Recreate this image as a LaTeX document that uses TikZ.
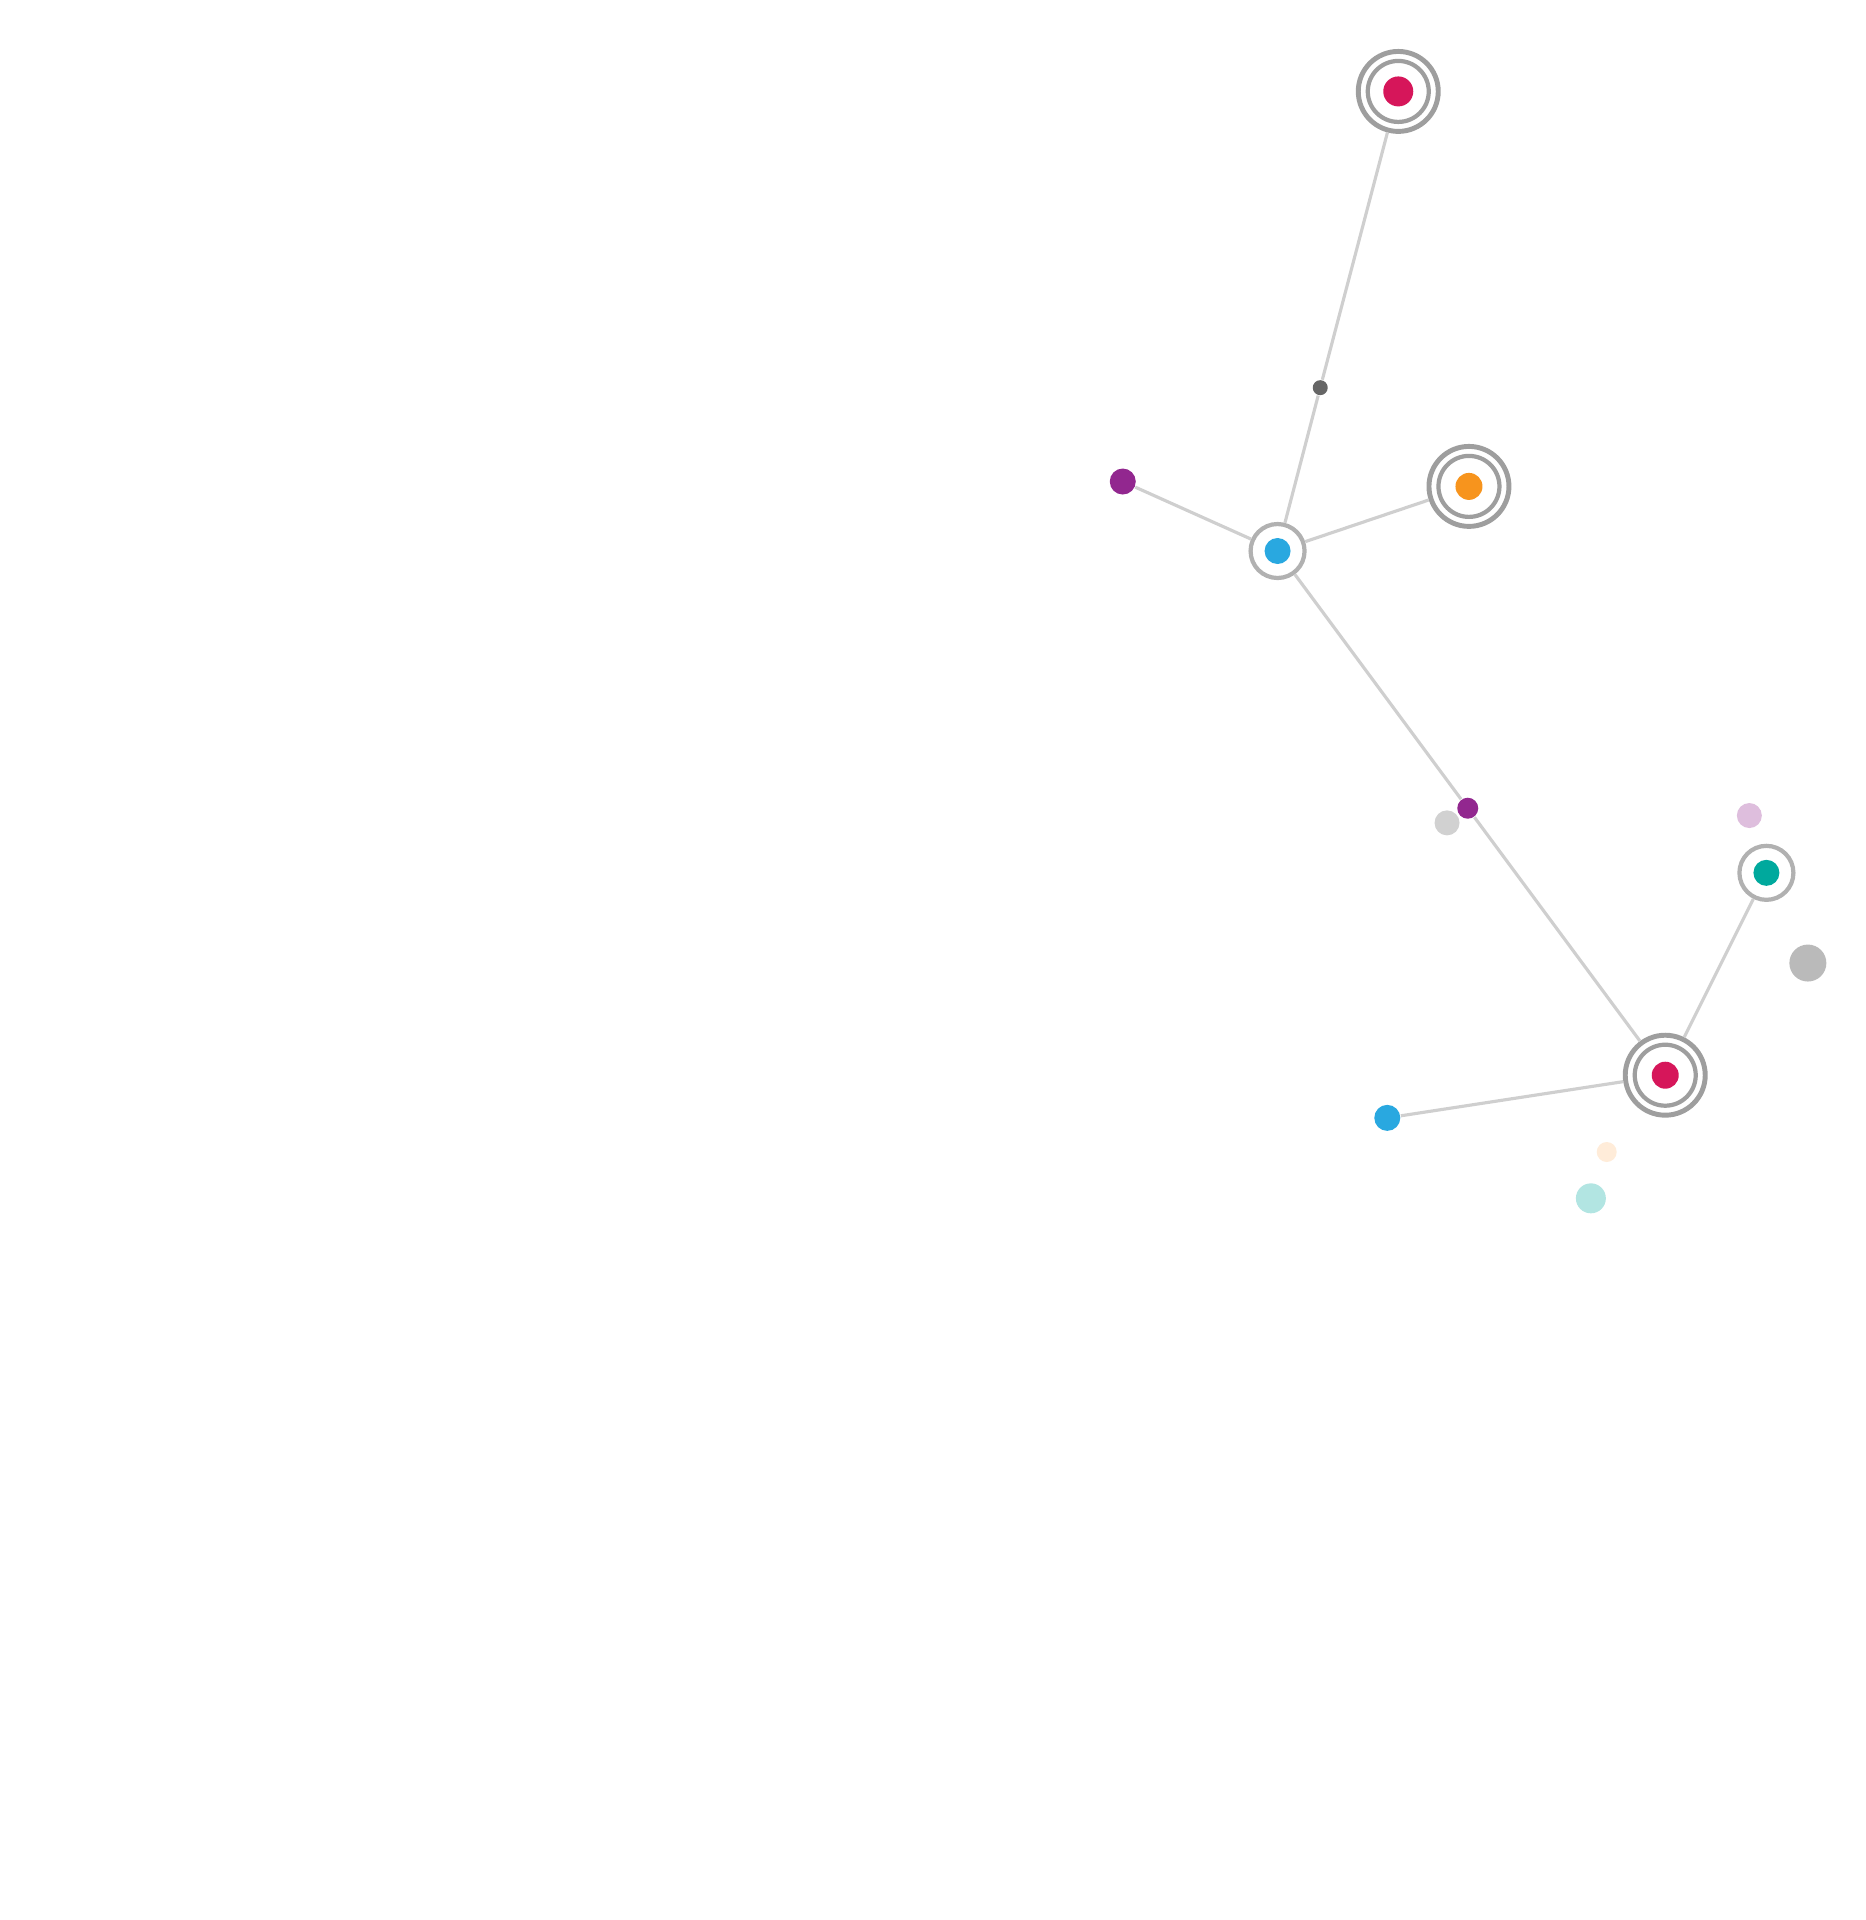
\documentclass[tikz,border=0pt]{standalone}
\usepackage{tikz}
\definecolor{ringgray}{HTML}{9E9E9E}
\definecolor{edgegray}{HTML}{CFCFCF}
\definecolor{hubred}{HTML}{D6165A}
\definecolor{hubblue}{HTML}{29A8E0}
\definecolor{hubpurple}{HTML}{92278F}
\definecolor{huborange}{HTML}{F7941D}
\definecolor{hubteal}{HTML}{00A99D}
\tikzset{
  outer/.style={circle,draw=ringgray,line width=1.4pt,fill=white,minimum size=0.80cm,inner sep=0pt},
  inner/.style={circle,draw=ringgray,line width=1.2pt,minimum size=0.61cm,inner sep=0pt},
  single/.style={circle,draw=ringgray!80,line width=1.2pt,fill=white,minimum size=0.54cm,inner sep=0pt},
  dot/.style={circle,fill=#1,minimum size=0.27cm,inner sep=0pt},
  edge/.style={draw=edgegray,line width=0.9pt}
}
\begin{document}
\begin{tikzpicture}[x=0.01219cm,y=-0.01219cm]
\useasboundingbox (0,0) rectangle (1530,1575);

% Hubs with double rings
\node[outer] (topred) at (1147,75) {};
\node[inner] (topredi) at (1147,75) {};
\node[dot=hubred,minimum size=0.3cm] (topredd) at (1147,75) {};
\node[outer] (orange) at (1205,399) {};
\node[inner] (orangei) at (1205,399) {};
\node[dot=huborange,minimum size=0.27cm] (oranged) at (1205,399) {};
\node[outer] (lowred) at (1366,882) {};
\node[inner] (lowredi) at (1366,882) {};
\node[dot=hubred,minimum size=0.27cm] (lowredd) at (1366,882) {};

% Hubs with one ring
\node[single] (blue) at (1048,452) {};
\node[dot=hubblue,minimum size=0.26cm] (blued) at (1048,452) {};
\node[single] (teal) at (1449,716) {};
\node[dot=hubteal,minimum size=0.26cm] (teald) at (1449,716) {};

% Plain dots
\node[dot=black!60,minimum size=0.15cm] (dark) at (1083,318) {};
\node[dot=hubpurple,minimum size=0.26cm] (purple) at (921,395) {};
\node[dot=hubpurple,minimum size=0.21cm] (midpurple) at (1204,663) {};
\node[dot=hubblue,minimum size=0.26cm] (lowblue) at (1138,917) {};
\node[dot=black!18,minimum size=0.25cm] (lightgray) at (1187,675) {};
\node[dot=hubpurple!30,minimum size=0.25cm] (pink) at (1435,669) {};
\node[dot=black!27,minimum size=0.37cm] (gray) at (1483,790) {};
\node[dot=orange!15,minimum size=0.2cm] (peach) at (1318,945) {};
\node[dot=hubteal!30,minimum size=0.3cm] (lightteal) at (1305,983) {};

% Draw edges
\path[edge] (topred) -- (dark) -- (blue);
\path[edge] (purple) -- (blue);
\path[edge] (blue) -- (orange);
\path[edge] (blue) -- (midpurple) -- (lowred);
\path[edge] (lowred) -- (teal);
\path[edge] (lowred) -- (lowblue);
\end{tikzpicture}
\end{document}
